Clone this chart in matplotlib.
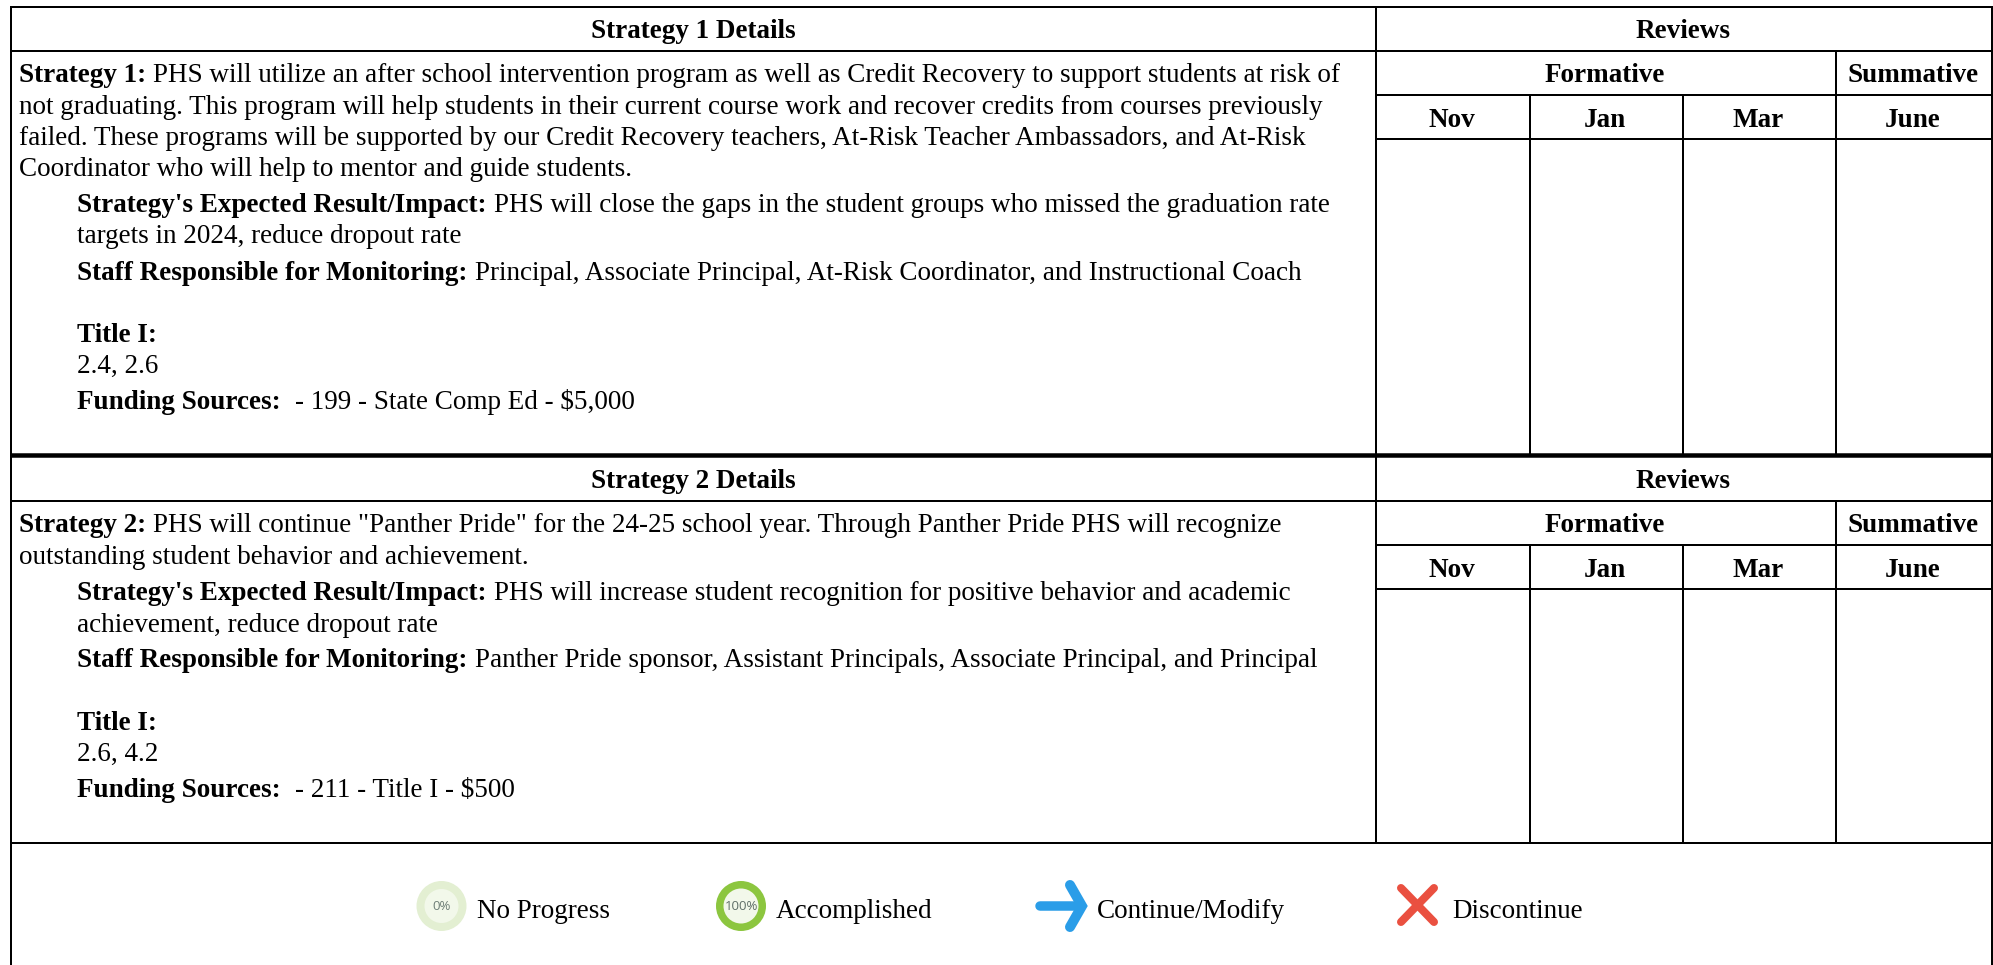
import matplotlib
matplotlib.use("Agg")
import matplotlib.pyplot as plt
from matplotlib.patches import Circle

W, H = 1993, 965
FONT = "Liberation Serif"
FS = 19.5

# ---- content ----
block_headers = ["Strategy 1 Details", "Strategy 2 Details"]
reviews_header = "Reviews"
review_groups = ["Formative", "Summative"]
months = ["Nov", "Jan", "Mar", "June"]
legend_labels = ["No Progress", "Accomplished", "Continue/Modify", "Discontinue"]

block1_lines = [
    (19, 82.5, "Strategy 1:", " PHS will utilize an after school intervention program as well as Credit Recovery to support students at risk of"),
    (19, 114, "", "not graduating. This program will help students in their current course work and recover credits from courses previously"),
    (19, 145, "", "failed. These programs will be supported by our Credit Recovery teachers, At-Risk Teacher Ambassadors, and At-Risk"),
    (19, 176, "", "Coordinator who will help to mentor and guide students."),
    (77, 212, "Strategy's Expected Result/Impact:", " PHS will close the gaps in the student groups who missed the graduation rate"),
    (77, 243, "", "targets in 2024, reduce dropout rate"),
    (77, 280, "Staff Responsible for Monitoring:", " Principal, Associate Principal, At-Risk Coordinator, and Instructional Coach"),
    (77, 342, "Title I:", ""),
    (77, 373, "", "2.4, 2.6"),
    (77, 409, "Funding Sources:", "  - 199 - State Comp Ed - $5,000"),
]
block2_lines = [
    (19, 532.5, "Strategy 2:", " PHS will continue \"Panther Pride\" for the 24-25 school year. Through Panther Pride PHS will recognize"),
    (19, 563.5, "", "outstanding student behavior and achievement."),
    (77, 600.5, "Strategy's Expected Result/Impact:", " PHS will increase student recognition for positive behavior and academic"),
    (77, 631.5, "", "achievement, reduce dropout rate"),
    (77, 667, "Staff Responsible for Monitoring:", " Panther Pride sponsor, Assistant Principals, Associate Principal, and Principal"),
    (77, 730, "Title I:", ""),
    (77, 761, "", "2.6, 4.2"),
    (77, 797, "Funding Sources:", "  - 211 - Title I - $500"),
]

fig = plt.figure(figsize=(W / 100, H / 100), dpi=100)
ax = fig.add_axes([0, 0, 1, 1])
ax.set_xlim(0, W)
ax.set_ylim(H, 0)
ax.axis("off")

LW = 2.0 * 0.72


def hline(x0, x1, y, lw=LW):
    ax.plot([x0, x1], [y, y], color="#000000", lw=lw, solid_capstyle="butt")


def vline(x, y0, y1, lw=LW):
    ax.plot([x, x], [y0, y1], color="#000000", lw=lw, solid_capstyle="butt")


XL, XD, X1, X2, X3, XR = 11.5, 1376, 1530, 1683, 1836, 1992

# outer frame and block rules
hline(XL, XR, 6.5)
for off, top in ((0, 6.5), (450, 456.5)):
    hline(XL, XR, 51 + off)
    hline(XD, XR, 95 + off)
    hline(XD, XR, 139 + off)
    vline(XD, top, 455 + off if off == 0 else 843)
    vline(X3, 51 + off, 455 + off if off == 0 else 843)
    vline(X1, 95 + off, 455 + off if off == 0 else 843)
    vline(X2, 95 + off, 455 + off if off == 0 else 843)
hline(XL, XR, 455, lw=4.5 * 0.72)
hline(XL, XR, 843)
vline(XL, 6, H)
vline(XR, 6, H)


def centered(x, y, s, weight="bold"):
    ax.text(x, y, s, family=FONT, fontsize=FS, weight=weight, ha="center", va="baseline", color="#000000")


for off, title in zip((0, 450), block_headers):
    centered(693, 37.5 + off, title)
    centered(1683, 37.5 + off, reviews_header)
    centered(1604.5, 82.5 + off, review_groups[0])
    centered(1913, 82.5 + off, review_groups[1])
    for cx, m in zip((1451.5, 1605, 1758, 1913), months):
        centered(cx, 127 + off, m)

fig.canvas.draw()
rend = fig.canvas.get_renderer()


def rich(x, y, bold, regular):
    cur = x
    if bold:
        t = ax.text(cur, y, bold, family=FONT, fontsize=FS, weight="bold", va="baseline", color="#000000")
        cur = t.get_window_extent(rend).x1 + 0.5
    if regular:
        lead = len(regular) - len(regular.lstrip(" "))
        cur += lead * FS * (100 / 72) * 0.25
        ax.text(cur, y, regular.lstrip(" "), family=FONT, fontsize=FS, va="baseline", color="#000000")


for rows in (block1_lines, block2_lines):
    for x, y, b, r in rows:
        rich(x, y, b, r)

# legend icons
ax.add_patch(Circle((441.5, 906), 25, fc="#e3efd2", ec="none"))
ax.add_patch(Circle((441.5, 906), 17, fc="#f2f8ea", ec="none"))
ax.text(441.5, 906, "0%", family="Open Sans", fontsize=9.5, ha="center", va="center", color="#6f7f78")
ax.add_patch(Circle((741, 906), 25, fc="#8cc63f", ec="none"))
ax.add_patch(Circle((741, 906), 17.5, fc="#f2f8ea", ec="none"))
ax.text(741, 906, "100%", family="Open Sans", fontsize=9.5, ha="center", va="center", color="#5f6f68")

ax.plot([1040, 1080], [906, 906], color="#2a9de8", lw=9.5 * 0.72, solid_capstyle="round")
ax.plot([1070, 1082, 1070], [885, 906, 927], color="#2a9de8", lw=10 * 0.72, solid_capstyle="round", solid_joinstyle="miter")
ax.plot([1401, 1434], [888, 922], color="#ea5040", lw=8 * 0.72, solid_capstyle="round")
ax.plot([1434, 1401], [888, 922], color="#ea5040", lw=8 * 0.72, solid_capstyle="round")

for x, s in zip((477, 775.5, 1097, 1452), legend_labels):
    ax.text(x, 918, s, family=FONT, fontsize=FS, va="baseline", color="#000000")

fig.savefig("out.png", dpi=100, facecolor="white")
